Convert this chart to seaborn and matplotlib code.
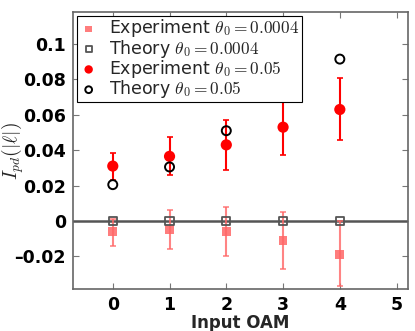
import numpy as np
import pandas as pd
import matplotlib
matplotlib.use('Agg')
import matplotlib.pyplot as plt
import seaborn as sns

# data
oam = [0, 1, 2, 3, 4]

exp_small = [-0.0062, -0.005, -0.006, -0.011, -0.019]
exp_small_hi = [0.001, 0.006, 0.008, 0.005, 0.0]
exp_small_lo = [-0.014, -0.016, -0.020, -0.027, -0.037]
theory_small = [0.0, 0.0, 0.0, 0.0, 0.0]

exp_big = [0.031, 0.0365, 0.043, 0.053, 0.063]
exp_big_hi = [0.0385, 0.0475, 0.057, 0.071, 0.081]
exp_big_lo = [0.023, 0.026, 0.029, 0.037, 0.046]
theory_big = [0.0205, 0.0305, 0.051, 0.071, 0.0915]

sns.set_style('ticks')
plt.rcParams['font.family'] = ['DejaVu Sans']
plt.rcParams['mathtext.fontset'] = 'cm'

fig, ax = plt.subplots(figsize=(4.15, 3.31), dpi=100)
fig.subplots_adjust(left=0.176, right=0.983, top=0.963, bottom=0.127)

ax.axhline(0, color='#555555', lw=1.8, zorder=1)

pink = '#ff6666'
# error bars
err_s = [np.array(exp_small) - np.array(exp_small_lo), np.array(exp_small_hi) - np.array(exp_small)]
ax.errorbar(oam, exp_small, yerr=err_s, fmt='none', ecolor=pink, alpha=0.8,
            elinewidth=1.5, capsize=2, capthick=1.2, zorder=2)
err_b = [np.array(exp_big) - np.array(exp_big_lo), np.array(exp_big_hi) - np.array(exp_big)]
ax.errorbar(oam, exp_big, yerr=err_b, fmt='none', ecolor='red',
            elinewidth=1.5, capsize=2, capthick=1.2, zorder=2)

df = pd.DataFrame({'oam': oam, 'exp_small': exp_small, 'theory_small': theory_small,
                   'exp_big': exp_big, 'theory_big': theory_big})

sns.scatterplot(data=df, x='oam', y='exp_small', marker='s', s=40, color=pink, alpha=0.85,
                edgecolor='none', label=r'Experiment $\theta_0 = 0.0004$', ax=ax, zorder=3)
sns.scatterplot(data=df, x='oam', y='theory_small', marker='s', s=36, facecolor='none',
                edgecolor='#555555', linewidth=1.3, label=r'Theory $\theta_0 = 0.0004$', ax=ax, zorder=4)
sns.scatterplot(data=df, x='oam', y='exp_big', marker='o', s=65, color='red',
                edgecolor='none', label=r'Experiment $\theta_0 = 0.05$', ax=ax, zorder=3)
sns.scatterplot(data=df, x='oam', y='theory_big', marker='o', s=42, facecolor='none',
                edgecolor='black', linewidth=1.4, label=r'Theory $\theta_0 = 0.05$', ax=ax, zorder=4)

ax.set_xlim(-0.7, 5.2)
ax.set_ylim(-0.0385, 0.118)
ax.set_xticks([0, 1, 2, 3, 4, 5])
ax.set_xticklabels(['0', '1', '2', '3', '4', '5'])
ax.set_yticks([-0.02, 0, 0.02, 0.04, 0.06, 0.08, 0.1])
ax.set_yticklabels(['\u20130.02', '0', '0.02', '0.04', '0.06', '0.08', '0.1'])
for lab in ax.get_xticklabels() + ax.get_yticklabels():
    lab.set_fontweight('bold')
    lab.set_fontsize(12.5)

ax.tick_params(direction='in', top=True, right=True, length=4, width=0.8, colors='#777777',
               labelcolor='black', pad=5)
for sp in ax.spines.values():
    sp.set_color('#666666')
    sp.set_linewidth(1.2)

ax.set_xlabel('Input OAM', fontsize=12, fontweight='bold', labelpad=0)
ax.set_ylabel(r'$I_{pd}(|\ell|)$', fontsize=14)
ax.yaxis.set_label_coords(-0.14, 0.5)

leg = ax.legend(loc='upper left', fontsize=12.5, frameon=True, fancybox=False, borderpad=0.1,
                labelspacing=-0.1, handletextpad=0.6, handlelength=1.2, borderaxespad=0.2,
                markerscale=0.75, framealpha=1)
leg.get_frame().set_edgecolor('black')
leg.get_frame().set_linewidth(0.8)

plt.savefig('out.png', dpi=100)
